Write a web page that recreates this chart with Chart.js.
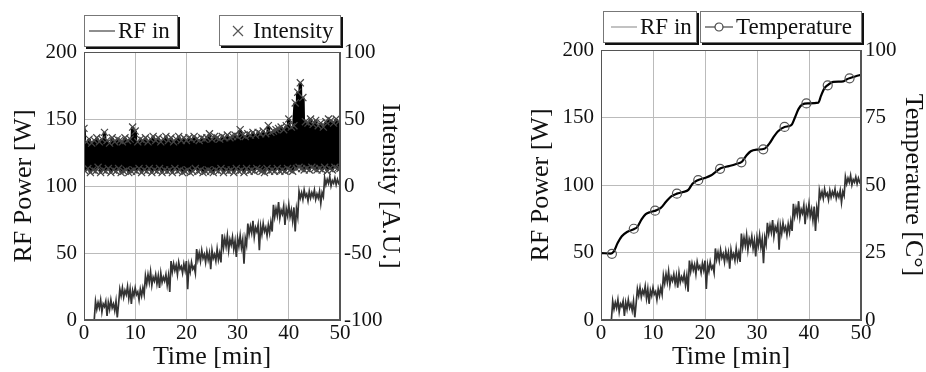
<!DOCTYPE html>
<html>
<head>
<meta charset="utf-8">
<script src="https://cdn.jsdelivr.net/npm/chart.js@4.4.1/dist/chart.umd.min.js"></script>
<style>
  body { margin: 0; background: #fff; width: 926px; height: 372px; position: relative; overflow: hidden; }
  canvas { position: absolute; top: 0; }
  .leg {
    position: absolute; box-sizing: border-box; background: #fff;
    border: 1px solid #777; box-shadow: 2px 2px 0 #111;
    display: flex; align-items: center; padding-left: 4px;
    font-family: "Liberation Serif", serif; font-size: 23px; color: #111;
  }
  .leg svg { margin-right: 3px; }
</style>
</head>
<body>
<canvas id="leftChart" width="403" height="372" style="left:0"></canvas>
<canvas id="rightChart" width="409" height="372" style="left:517px"></canvas>

<div class="leg" style="left:84px;top:15px;width:94px;height:32px">
  <svg width="26" height="10"><line x1="0" y1="5" x2="26" y2="5" stroke="#444" stroke-width="1.2"/></svg><span>RF in</span>
</div>
<div class="leg" style="left:219px;top:15px;width:122px;height:31px;padding-left:12px">
  <svg width="12" height="12"><path d="M1 1L11 11M11 1L1 11" stroke="#555" stroke-width="1.2"/></svg><span style="margin-left:6px">Intensity</span>
</div>
<div class="leg" style="left:603px;top:11px;width:94px;height:32px;padding-left:7px">
  <svg width="26" height="10"><line x1="0" y1="5" x2="26" y2="5" stroke="#999" stroke-width="1.2"/></svg><span>RF in</span>
</div>
<div class="leg" style="left:700px;top:11px;width:162px;height:32px">
  <svg width="28" height="12"><line x1="0" y1="6" x2="28" y2="6" stroke="#444" stroke-width="1.2"/><circle cx="14" cy="6" r="4" fill="#fff" stroke="#444" stroke-width="1.2"/></svg><span>Temperature</span>
</div>

<script>
// Sampling of the RF and intensity traces (minutes)
const rfStart = 2;
const rfStep = 0.25;
const intStart = 0;
const intStep = 0.25;

// RF input power [W], one value every 0.25 min from t = 2
const rfIn = [
  0,
  14, 8, 13, 9, 15, 6, 12, 10, 14, 3, 13, 8, 15, 9, 12, 7, 14, 2, 12,
  23, 18, 24, 17, 22, 19, 25, 16, 23, 12, 22, 18, 24, 19, 21, 15, 23, 18, 24, 19,
  33, 27, 34, 28, 36, 26, 32, 29, 34, 27, 33, 24, 35, 28, 32, 29, 34, 26, 33, 21,
  44, 36, 42, 37, 41, 34, 43, 38, 40, 35, 42, 37, 44, 23, 41, 36, 43, 38, 40, 35,
  53, 45, 50, 44, 52, 46, 49, 43, 51, 45, 50, 38, 52, 46, 49, 44, 53, 45, 50, 43,
  64, 54, 61, 55, 63, 52, 60, 56, 62, 53, 59, 47, 61, 55, 63, 54, 60, 42, 61, 56,
  72, 64, 70, 65, 74, 62, 69, 66, 71, 52, 70, 64, 72, 66, 69, 63, 71, 65, 73, 66,
  86, 77, 83, 78, 88, 76, 82, 79, 85, 71, 83, 78, 86, 77, 82, 74, 84, 66, 83, 77,
  96, 91, 95, 90, 97, 92, 94, 89, 96, 91, 95, 92, 97, 90, 94, 91, 96, 87, 95, 92,
  106, 101, 105, 102, 107, 100, 104, 102, 106, 101, 105, 102, 104
];

// Intensity [A.U.], one value every 0.25 min from t = 0
const intensity = [
  43, 11, 33, 13, 35, 10, 32, 12,
  34, 11, 36, 14, 33, 10, 35, 12,
  40, 11, 34, 13, 32, 10, 36, 12,
  33, 11, 35, 13, 34, 10, 33, 11,
  36, 12, 34, 10, 35, 11, 44, 12,
  41, 11, 33, 13, 35, 10, 34, 12,
  36, 11, 33, 13, 35, 10, 37, 12,
  34, 11, 36, 13, 33, 10, 35, 12,
  37, 11, 34, 12, 36, 10, 33, 13,
  35, 11, 37, 12, 34, 10, 36, 11,
  34, 12, 36, 10, 35, 11, 37, 13,
  35, 11, 34, 12, 36, 10, 35, 11,
  36, 12, 39, 11, 35, 10, 37, 12,
  36, 11, 35, 13, 37, 10, 36, 12,
  38, 11, 36, 12, 37, 10, 38, 13,
  37, 11, 42, 12, 38, 10, 37, 13,
  39, 11, 38, 12, 40, 11, 38, 13,
  40, 12, 39, 11, 41, 10, 39, 13,
  45, 11, 40, 12, 41, 11, 42, 13,
  43, 11, 44, 12, 42, 11, 45, 13,
  50, 12, 44, 11, 45, 62, 13, 70,
  14, 77, 13, 66, 12, 48, 13, 47,
  12, 50, 14, 46, 13, 49, 12, 45,
  13, 47, 12, 44, 14, 48, 11, 50,
  13, 49, 12, 47, 14, 50, 13, 48,
  13
];

// Temperature [C°] trace
const tempTime = [0, 1.9, 2.5, 3.2, 4.0, 5.0, 6.3, 7.0, 7.8, 8.6, 9.5, 10.6, 11.5, 12.5, 13.5, 14.6,
  15.8, 16.8, 17.6, 18.5, 19.8, 21.2, 22.0, 23.0, 24.6, 26.0, 27.1, 28.0, 28.8, 30.0, 31.4, 32.4,
  33.2, 34.0, 35.3, 36.6, 37.3, 38.0, 38.7, 39.8, 41.8, 42.3, 42.9, 43.6, 44.7, 46.6, 47.3, 48.2, 49.0, 50.0];
const tempValue = [24.8, 24.6, 25.5, 28.5, 31.0, 32.6, 33.6, 34.5, 37.3, 39.2, 40.0, 40.6, 41.5, 43.8, 45.8, 46.8,
  47.4, 48.2, 50.5, 51.7, 52.5, 53.6, 54.8, 56.2, 57.0, 57.8, 58.6, 61.0, 62.5, 63.1, 63.4, 65.4,
  67.8, 69.8, 71.5, 72.2, 75.0, 78.2, 79.8, 80.2, 80.5, 83.0, 85.6, 87.0, 88.2, 88.4, 89.2, 89.8, 90.3, 90.8];

// Circle markers on the temperature trace
const markTime = [2.1, 6.3, 10.4, 14.6, 18.7, 22.9, 27.0, 31.2, 35.3, 39.5, 43.6, 47.8];
const markValue = [24.5, 33.8, 40.5, 46.8, 51.8, 56.0, 58.4, 63.2, 71.5, 80.2, 86.9, 89.5];

const FONT = 'Liberation Serif';
const TXT = '#111';

const rfPoints = rfIn.map((v, i) => ({ x: rfStart + i * rfStep, y: v }));
const intPoints = intensity.map((v, i) => ({ x: intStart + i * intStep, y: v }));
const tempPoints = tempTime.map((t, i) => ({ x: t, y: tempValue[i] }));
const markPoints = markTime.map((t, i) => ({ x: t, y: markValue[i] }));

// frame round the plot area
const frame = {
  id: 'frame',
  afterDraw(chart) {
    const a = chart.chartArea;
    const ctx = chart.ctx;
    ctx.save();
    ctx.strokeStyle = '#555';
    ctx.lineWidth = 1;
    ctx.strokeRect(a.left + 0.5, a.top + 0.5, a.right - a.left - 1, a.bottom - a.top - 1);
    ctx.restore();
  }
};

function makeScales(y2min, y2max, y2step, y2title, rightWidth) {
  return {
    x: {
      type: 'linear', min: 0, max: 50,
      ticks: { stepSize: 10, color: TXT, font: { family: FONT, size: 21 }, padding: 1, maxRotation: 0 },
      grid: { color: '#bbb', drawTicks: false },
      border: { color: '#555' },
      title: { display: true, text: 'Time [min]', color: TXT, font: { family: FONT, size: 26, lineHeight: 1 }, padding: 2 },
      afterFit: s => { s.height = 52; }
    },
    y: {
      min: 0, max: 200,
      ticks: { stepSize: 50, color: TXT, font: { family: FONT, size: 21 }, padding: 7 },
      grid: { color: '#bbb', drawTicks: false },
      border: { color: '#555' },
      title: { display: true, text: 'RF Power [W]', color: TXT, font: { family: FONT, size: 26, lineHeight: 1 }, padding: 11 },
      afterFit: s => { s.width = 84; }
    },
    y2: {
      position: 'right', min: y2min, max: y2max,
      ticks: { stepSize: y2step, color: TXT, font: { family: FONT, size: 21 }, padding: 4 },
      grid: { display: false, drawTicks: false },
      border: { color: '#555' },
      title: { display: true, text: y2title, color: TXT, font: { family: FONT, size: 26, lineHeight: 1 }, padding: 0 },
      afterFit: s => { s.width = rightWidth; }
    }
  };
}

const common = {
  responsive: false,
  animation: false,
  devicePixelRatio: 1,
  plugins: { legend: { display: false }, tooltip: { enabled: false } },
};

new Chart(document.getElementById('leftChart'), {
  type: 'scatter',
  data: {
    datasets: [
      {
        label: 'RF in', data: rfPoints, yAxisID: 'y', showLine: true,
        borderColor: '#333', borderWidth: 1.7, pointRadius: 0, order: 2
      },
      {
        label: 'Intensity', data: intPoints, yAxisID: 'y2', showLine: true,
        borderColor: '#000', borderWidth: 3.5, pointStyle: 'crossRot', pointRadius: 5,
        pointBorderColor: '#444', pointBorderWidth: 1.2, order: 1
      }
    ]
  },
  options: Object.assign({}, common, {
    layout: { padding: { top: 52, left: 0, right: 0, bottom: 0 } },
    scales: makeScales(-100, 100, 50, 'Intensity [A.U.]', 63)
  }),
  plugins: [frame]
});

new Chart(document.getElementById('rightChart'), {
  type: 'scatter',
  data: {
    datasets: [
      {
        label: 'RF in', data: rfPoints, yAxisID: 'y', showLine: true,
        borderColor: '#333', borderWidth: 1.7, pointRadius: 0, order: 3
      },
      {
        label: 'Temperature', data: tempPoints, yAxisID: 'y2', showLine: true,
        borderColor: '#000', borderWidth: 2.2, pointRadius: 0, cubicInterpolationMode: 'monotone', order: 2
      },
      {
        label: 'Temperature markers', data: markPoints, yAxisID: 'y2', showLine: false,
        pointStyle: 'circle', pointRadius: 4.5, pointBorderColor: '#555', pointBorderWidth: 1.2,
        pointBackgroundColor: 'rgba(0,0,0,0)', order: 1
      }
    ]
  },
  options: Object.assign({}, common, {
    layout: { padding: { top: 50, left: 0, right: 0, bottom: 0 } },
    scales: makeScales(0, 100, 25, 'Temperature [C°]', 65)
  }),
  plugins: [frame]
});
</script>
</body>
</html>
